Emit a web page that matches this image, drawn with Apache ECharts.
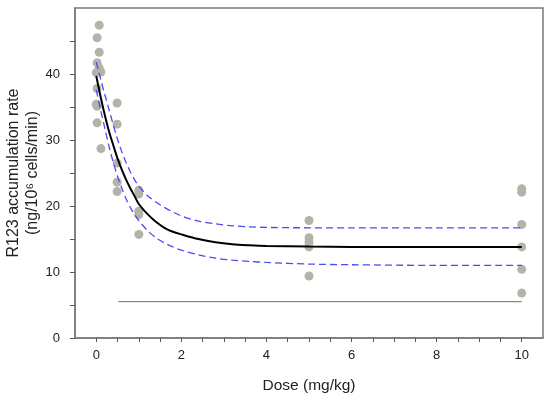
<!DOCTYPE html>
<html>
<head>
<meta charset="utf-8">
<script src="https://cdn.jsdelivr.net/npm/echarts@6/dist/echarts.min.js"></script>
<style>html,body{margin:0;padding:0;background:#fff}#c{width:550px;height:398px}</style>
</head>
<body>
<div id="c"></div>
<script>
// Observed data points [dose, rate]
var pointsX = [0.07,0.02,0.07,0.02,0.07,0.0,0.11,0.02,0.0,0.02,0.02,0.11,
               0.49,0.49,0.49,0.49,0.49,
               1.0,1.0,1.0,1.0,1.0,
               5.0,5.0,5.0,5.0,5.0,
               10.0,10.0,10.0,10.0,10.0,10.0];
var pointsY = [47.4,45.5,43.3,41.7,40.9,40.2,40.3,37.8,35.4,35.1,32.6,28.7,
               35.6,32.4,26.5,23.6,22.2,
               22.4,21.8,19.2,18.7,15.7,
               17.8,15.2,14.5,13.8,9.4,
               22.6,22.1,17.2,13.8,10.4,6.8];
// Fitted curve and confidence band
var curveX = [0,0.1,0.2,0.3,0.4,0.5,0.6,0.7,0.8,0.9,1.0,1.2,1.4,1.6,1.8,2.0,2.4,2.8,3.2,3.6,4,5,6,8,10];
var fitY   = [39.7,36.6,33.8,31.3,29.2,27.2,25.5,24.0,22.7,21.5,20.3,18.8,17.6,16.7,16.1,15.7,15.0,14.5,14.2,14.05,13.95,13.85,13.8,13.8,13.8];
var upperY = [41.8,39.3,36.9,34.6,32.3,30.1,28.2,26.6,25.2,24.0,23.0,21.6,20.6,19.8,19.1,18.5,17.7,17.3,17.0,16.85,16.75,16.7,16.7,16.7,16.7];
var lowerY = [37.6,34.6,31.8,29.0,26.6,24.5,22.7,21.1,19.8,18.7,17.8,16.3,15.2,14.4,13.8,13.3,12.6,12.1,11.8,11.6,11.45,11.2,11.1,11.0,11.0];
// Thin reference line
var refX = [0.52,10];
var refY = [5.5,5.5];
// Ticks
var xLabels = [0,2,4,6,8,10];
var xTicks = [0,0.5,1,1.5,2,2.5,3,3.5,4,4.5,5,5.5,6,6.5,7,7.5,8,8.5,9,9.5,10];
var yLabels = [0,10,20,30,40];
var yTicks = [0,5,10,15,20,25,30,35,40,45];

function zip(a,b){return a.map(function(v,i){return [v,b[i]];});}

var chart = echarts.init(document.getElementById('c'), null, {renderer:'canvas'});
var font = 'Liberation Sans, Arial, sans-serif';
chart.setOption({
  animation:false,
  backgroundColor:'#fff',
  grid:{left:75,right:7,top:8,bottom:60,containLabel:false,outerBoundsMode:'none',show:true,borderColor:'#7a7a7a',borderWidth:1.5,backgroundColor:'transparent'},
  xAxis:{
    type:'value',min:-0.5,max:10.5,
    axisLine:{show:true,onZero:false,lineStyle:{color:'#7a7a7a',width:1.5}},
    axisTick:{show:true,length:4,customValues:xTicks,lineStyle:{color:'#555',width:1}},
    axisLabel:{customValues:xLabels,color:'#222',fontSize:13,fontFamily:font,margin:11},
    splitLine:{show:false},
    name:'Dose (mg/kg)',nameLocation:'middle',nameGap:40,nameMoveOverlap:false,
    nameTextStyle:{color:'#222',fontSize:15.5,fontFamily:font}
  },
  yAxis:{
    type:'value',min:0,max:50,
    axisLine:{show:true,onZero:false,lineStyle:{color:'#7a7a7a',width:1.5}},
    axisTick:{show:true,length:5,customValues:yTicks,lineStyle:{color:'#555',width:1}},
    axisLabel:{customValues:yLabels,color:'#222',fontSize:13,fontFamily:font,margin:15},
    splitLine:{show:false},
    name:'R123 accumulation rate\n(ng/10\u2076 cells/min)',nameLocation:'middle',nameGap:33,nameMoveOverlap:false,
    nameTextStyle:{color:'#222',fontSize:16,fontFamily:font,lineHeight:19}
  },
  series:[
    {type:'scatter',data:zip(pointsX,pointsY),symbolSize:9,itemStyle:{color:'#b4b3a9',opacity:1},z:1},
    {type:'line',data:zip(refX,refY),showSymbol:false,lineStyle:{color:'#8a8a8a',width:1.3},z:2},
    {type:'line',data:zip(curveX,upperY),smooth:0.3,showSymbol:false,lineStyle:{color:'#4a4af5',width:1.3,type:[7,4]},z:3},
    {type:'line',data:zip(curveX,lowerY),smooth:0.3,showSymbol:false,lineStyle:{color:'#4a4af5',width:1.3,type:[7,4]},z:3},
    {type:'line',data:zip(curveX,fitY),smooth:0.3,showSymbol:false,lineStyle:{color:'#000',width:2},z:4}
  ]
});
</script>
</body>
</html>
